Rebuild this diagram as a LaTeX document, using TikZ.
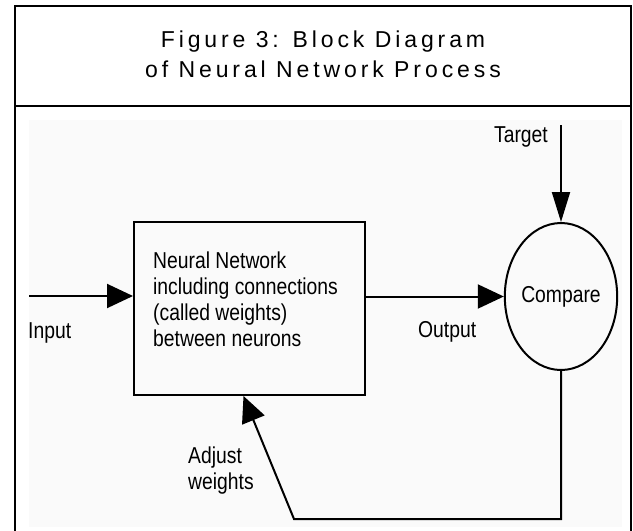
\documentclass[tikz,border=0pt]{standalone}
\usepackage{fontspec}
\setmainfont{Liberation Sans}
\newfontfamily\titlefont[LetterSpace=17]{Liberation Sans}
\newfontfamily\narrowfont[FakeStretch=0.84]{Liberation Sans}
\usetikzlibrary{shapes.geometric,positioning,arrows.meta,calc}

\begin{document}
\begin{tikzpicture}[x=1pt,y=-1pt,
    lbl/.style={font=\narrowfont\fontsize{23}{26}\selectfont, inner sep=0pt, align=left},
    flow/.style={line width=2pt, -{Triangle[length=26pt,width=24pt]}}]
    \useasboundingbox (0,0) rectangle (633,531);
    % frame and header
    \fill[black!2] (29,120) rectangle (622,527);
    \draw[line width=1.6pt] (15,531) -- (15,6) -- (631,6) -- (631,531);
    \draw[line width=1.6pt] (15,106) -- (631,106);
    \node (title) [anchor=north, align=center, inner sep=0pt, font=\titlefont\fontsize{23}{30}\selectfont] at (323,31) {Figure 3: Block Diagram\\of Neural Network Process};

    \node (nn) [draw, line width=2pt, minimum width=231pt, minimum height=173pt] at (249.5,308.5) {};
    \node (nntext) [lbl, anchor=north west] at (153,252) {Neural Network\\including connections\\(called weights)\\between neurons};
    \node (cmp) [draw, ellipse, line width=2pt, inner sep=0pt, minimum width=108pt, minimum height=147pt, lbl] at (561,296.5) {Compare};

    \coordinate (in) at (29,296);
    \coordinate (tgt) at (561,125);
    \coordinate (fbcorner) at (294,519);

    \node (inlbl) [lbl, anchor=west] at (28,333) {Input};
    \node (outlbl) [lbl, anchor=west] at (418,332) {Output};
    \node (tgtlbl) [lbl, anchor=east] at (548,137) {Target};
    \node (adjlbl) [lbl, anchor=north west] at (188,447) {Adjust\\weights};

    \draw[flow] (in) -- (in -| nn.west);
    \draw[flow] (cmp.west -| nn.east) -- (cmp.west);
    \draw[flow, -{Triangle[length=30pt,width=18pt]}] (tgt) -- (cmp.north);
    \draw[flow] (cmp.south) |- (fbcorner) -- ([xshift=-6pt]nn.south);
\end{tikzpicture}
\end{document}
